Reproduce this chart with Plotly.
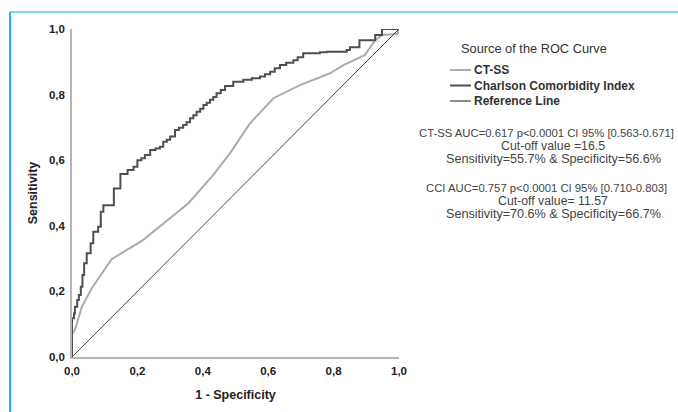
import plotly.graph_objects as go

# CCI ROC curve (step corners: x, y reached after vertical jump)
cci_fpr = [0, 0.006, 0.009, 0.016, 0.021, 0.027, 0.032, 0.037, 0.045, 0.057, 0.065, 0.08, 0.088,
           0.096, 0.128, 0.148, 0.170, 0.188, 0.200, 0.212, 0.223, 0.239, 0.255, 0.269, 0.279,
           0.290, 0.300, 0.315, 0.327, 0.340, 0.350, 0.361, 0.371, 0.381, 0.392, 0.402, 0.412,
           0.422, 0.432, 0.442, 0.455, 0.468, 0.493, 0.524, 0.550, 0.575, 0.590, 0.606, 0.620,
           0.636, 0.655, 0.677, 0.690, 0.707, 0.758, 0.779, 0.840, 0.850, 0.879, 0.927, 0.948, 1.0]
cci_tpr = [0.118, 0.133, 0.153, 0.174, 0.189, 0.214, 0.250, 0.286, 0.316, 0.347, 0.382, 0.397, 0.443,
           0.463, 0.514, 0.558, 0.570, 0.580, 0.600, 0.606, 0.616, 0.631, 0.636, 0.641, 0.656,
           0.662, 0.672, 0.692, 0.699, 0.707, 0.716, 0.728, 0.737, 0.748, 0.757, 0.768, 0.775,
           0.784, 0.793, 0.804, 0.814, 0.826, 0.839, 0.845, 0.850, 0.855, 0.862, 0.870, 0.880,
           0.890, 0.897, 0.905, 0.914, 0.926, 0.929, 0.931, 0.936, 0.944, 0.966, 0.982, 1.0, 1.0]

# CT-SS ROC curve
ctss_fpr = [0, 0, 0.009, 0.030, 0.060, 0.121, 0.218, 0.290, 0.356, 0.432, 0.483, 0.544, 0.616,
            0.697, 0.789, 0.830, 0.896, 0.927, 0.948, 0.995, 1.0]
ctss_tpr = [0, 0.072, 0.082, 0.153, 0.209, 0.298, 0.357, 0.415, 0.469, 0.555, 0.621, 0.712, 0.789,
            0.829, 0.865, 0.890, 0.921, 0.966, 0.982, 0.985, 1.0]

ref_x = [0, 1]
ref_y = [0, 1]

tick_vals = [0, 0.2, 0.4, 0.6, 0.8, 1.0]
tick_text = ["0,0", "0,2", "0,4", "0,6", "0,8", "1,0"]

legend_title = "Source of the ROC Curve"
series_names = ["CT-SS", "Charlson Comorbidity Index", "Reference Line"]
series_colors = ["#ababab", "#4f4f4f", "#666666"]

annot_lines = [
    "CT-SS AUC=0.617 p<0.0001 CI 95% [0.563-0.671]",
    "Cut-off value =16.5",
    "Sensitivity=55.7% & Specificity=56.6%",
    "CCI AUC=0.757 p<0.0001 CI 95% [0.710-0.803]",
    "Cut-off value= 11.57",
    "Sensitivity=70.6% & Specificity=66.7%",
]

FONT = "Liberation Sans, Arial, sans-serif"

fig = go.Figure()
fig.add_trace(go.Scatter(x=ctss_fpr, y=ctss_tpr, mode="lines", name=series_names[0],
                         line=dict(color=series_colors[0], width=2)))
fig.add_trace(go.Scatter(x=[0] + cci_fpr, y=[0] + cci_tpr, mode="lines", name=series_names[1],
                         line=dict(color=series_colors[1], width=2, shape="hv")))
fig.add_trace(go.Scatter(x=ref_x, y=ref_y, mode="lines", name=series_names[2],
                         line=dict(color="#444444", width=1)))

# axis geometry: plot area x 72-399, y 29-357
L, R, T, B = 72, 399, 29, 357
W, H = R - L, B - T

def px(xp):
    return (xp - L) / W

def py(yp):
    return (B - yp) / H

# annotation text block
ys = [133, 146, 159, 188, 201, 214]
xs = [546, 553, 553, 546, 553, 553]
sizes = [11.3, 12.3, 12.6, 11.3, 12.3, 12.6]
for t, xx, yy, s in zip(annot_lines, xs, ys, sizes):
    fig.add_annotation(x=px(xx), y=py(yy), xref="paper", yref="paper", text=t,
                       showarrow=False, xanchor="center", yanchor="middle",
                       font=dict(family=FONT, size=s, color="#444444"))

# hand-drawn legend
fig.add_annotation(x=px(534), y=py(48), xref="paper", yref="paper", text=legend_title,
                   showarrow=False, xanchor="center", yanchor="middle",
                   font=dict(family=FONT, size=12.8, color="#333333"))
for i, (nm, col) in enumerate(zip(series_names, series_colors)):
    yy = 70 + i * 15.5
    fig.add_shape(type="line", xref="paper", yref="paper", x0=px(450), x1=px(471),
                  y0=py(yy), y1=py(yy), line=dict(color=col, width=2 if i < 2 else 1.5))
    fig.add_annotation(x=px(472), y=py(yy), xref="paper", yref="paper", text=nm,
                       showarrow=False, xanchor="left", yanchor="middle",
                       font=dict(family=FONT, size=12, color="#333333", weight="bold"))

fig.update_layout(
    width=678, height=412,
    margin=dict(l=L, r=678 - R, t=T, b=412 - B, autoexpand=False),
    paper_bgcolor="white", plot_bgcolor="white",
    font=dict(family=FONT, color="#222222"),
    showlegend=False,
    xaxis=dict(range=[0, 1], tickvals=tick_vals, ticktext=tick_text, showgrid=False,
               zeroline=False, showline=True, linecolor="#b5b5b5", linewidth=1.5,
               ticks="", ticklabelstandoff=2,
               tickfont=dict(family=FONT, size=11.5, color="#222222", weight="bold"),
               title=dict(text="1 - Specificity", standoff=15,
                          font=dict(family=FONT, size=12.5, color="#222222", weight="bold"))),
    yaxis=dict(range=[0, 1], tickvals=tick_vals, ticktext=tick_text, showgrid=False,
               zeroline=False, showline=True, linecolor="#b5b5b5", linewidth=1.5,
               ticks="", ticklabelstandoff=3,
               tickfont=dict(family=FONT, size=11.5, color="#222222", weight="bold"),
               title=dict(text="Sensitivity", standoff=9,
                          font=dict(family=FONT, size=12.5, color="#222222", weight="bold"))),
)

# cyan frame (top and left edges)
fig.add_shape(type="line", xref="paper", yref="paper", x0=px(10), x1=px(690), y0=py(12), y1=py(12),
              line=dict(color="#7fd3ea", width=2))
fig.add_shape(type="line", xref="paper", yref="paper", x0=px(10), x1=px(10), y0=py(12), y1=py(420),
              line=dict(color="#21b4e2", width=2))

fig.write_html("out.html", config={"displayModeBar": False},
               post_script="document.body.style.margin='0';document.body.style.padding='0';")
